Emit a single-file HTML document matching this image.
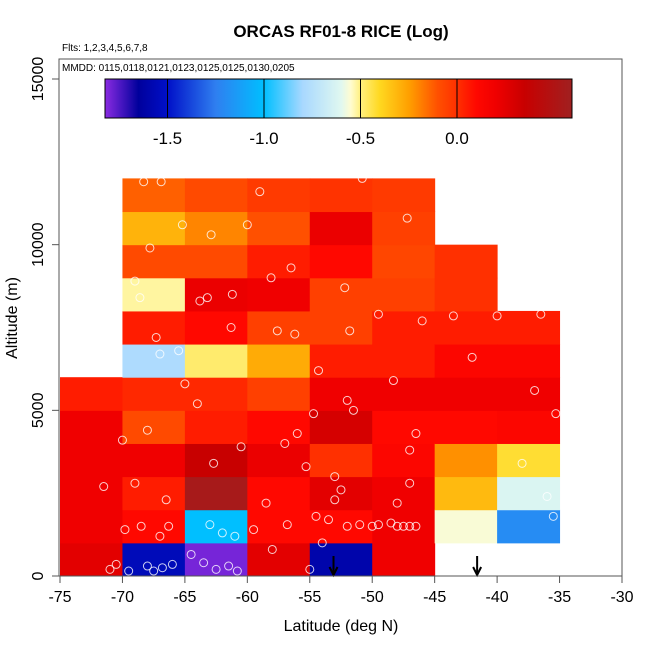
<!DOCTYPE html>
<html><head><meta charset="utf-8"><style>
html,body{margin:0;padding:0;background:#fff;}
svg{display:block;font-family:"Liberation Sans",Arial,sans-serif;}
</style></head><body>
<svg id="chart" width="650" height="650" viewBox="0 0 650 650" xmlns="http://www.w3.org/2000/svg">
<text x="341" y="37" text-anchor="middle" font-size="17" font-weight="bold">ORCAS RF01-8 RICE (Log)</text>
<text x="62" y="51" font-size="10">Flts: 1,2,3,4,5,6,7,8</text>
<g id="cells"></g>
<g id="points"></g>
<g id="arrows"></g>
<rect x="59" y="59" width="563" height="517" fill="none" stroke="#555" stroke-width="1"/>
<text x="62" y="71" font-size="10">MMDD: 0115,0118,0121,0123,0125,0125,0130,0205</text>
<g id="cbar"></g>
<g id="axes"></g>
<text x="341" y="631" text-anchor="middle" font-size="16">Latitude (deg N)</text>
<text x="0" y="0" transform="translate(17,318) rotate(-90)" text-anchor="middle" font-size="16">Altitude (m)</text>
</svg>
<script>
const latBins=[-75,-70,-65,-60,-55,-50,-45,-40];
// values per latitude column, altitude bins 0..11 (km); null = no data
const col75=[0.25,0.2,0.2,0.2,0.2,0.05,null,null,null,null,null,null];
const col70=[-1.55,0.1,0.05,0.2,-0.08,0.02,-0.78,0.05,-0.52,-0.08,-0.3,-0.13];
const col65=[-1.8,-1.0,0.55,0.35,0.05,0.02,-0.48,0.1,0.22,-0.08,-0.2,-0.08];
const col60=[0.25,0.1,0.1,0.22,0.1,-0.05,-0.28,-0.05,0.2,0.05,-0.1,-0.03];
const col55=[-1.6,0.1,0.25,0.0,0.3,0.2,0.05,-0.05,-0.05,0.1,0.22,-0.01];
const col50=[0.2,0.2,0.2,0.12,0.1,0.2,0.05,0.05,-0.05,-0.07,-0.05,-0.03];
const col45=[null,-0.56,-0.32,-0.22,0.1,0.2,0.12,0.05,0.0,0.0,null,null];
const col40=[null,-1.2,-0.62,-0.42,0.12,0.2,0.12,0.05,null,null,null,null];
const cellValues=[col75,col70,col65,col60,col55,col50,col45,col40];
const xTicks=[-75,-70,-65,-60,-55,-50,-45,-40,-35,-30];
const yTicks=[0,5000,10000,15000];
const cbTicks=[-1.5,-1.0,-0.5,0.0];
const ptLat=[-71,-70.5,-69.5,-68,-67.5,-66.8,-66,-64.5,-63.5,-62.5,-61.5,-60.8,-68.5,-67,-66.3,-69.8,-63,-62,-61,-59.5,-58,-56.8,-55,-54.5,-54,-53.5,-52,-51,-50,-49.5,-48.5,-48,-47.5,-47,-46.5,-53,-52.5,-48,-47,-71.5,-70,-69,-68,-66.5,-65,-64,-62.7,-60.5,-58.5,-57,-56,-55.3,-54.7,-53,-52,-51.5,-47,-46.5,-46,-43.5,-42,-40,-37,-35.3,-38,-36,-35.5,-36.5,-67.3,-67,-65.5,-61.3,-57.6,-56.2,-54.3,-51.8,-49.5,-48.3,-69,-68.6,-63.8,-63.2,-61.2,-60,-59,-66.9,-68.3,-65.2,-62.9,-58.1,-56.5,-52.2,-50.8,-47.2,-67.8,-72];
const ptAlt=[200,350,150,300,150,250,350,650,400,200,300,150,1500,1200,1500,1400,1550,1300,1200,1400,800,1550,200,1800,1000,1700,1500,1550,1500,1550,1600,1500,1500,1500,1500,2300,2600,2200,2800,2700,4100,2800,4400,2300,5800,5200,3400,3900,2200,4000,4300,3300,4900,3000,5300,5000,3800,4300,7700,7850,6600,7850,5600,4900,3400,2400,1800,7900,7200,6700,6800,7500,7400,7300,6200,7400,7900,5900,8900,8400,8300,8400,8500,10600,11600,11900,11900,10600,10300,9000,9300,8700,12000,10800,9900,12000];
const cStops=[[-1.826,[138,43,226]],[-1.65,[0,0,156]],[-1.5,[0,16,200]],[-1.25,[47,127,240]],[-1.0,[0,191,255]],[-0.8,[168,216,255]],[-0.6,[224,248,240]],[-0.55,[255,252,208]],[-0.5,[255,240,128]],[-0.4,[255,216,32]],[-0.25,[255,160,0]],[-0.1,[255,80,0]],[0.0,[255,48,0]],[0.1,[255,8,0]],[0.2,[240,0,0]],[0.35,[200,0,0]],[0.596,[160,32,32]]];
function cmap(v){
  if(v<=cStops[0][0])return cStops[0][1];
  for(let i=1;i<cStops.length;i++){
    if(v<=cStops[i][0]){const a=cStops[i-1],b=cStops[i];const t=(v-a[0])/(b[0]-a[0]);
      return a[1].map((c,k)=>Math.round(c+(b[1][k]-c)*t));}
  }
  return cStops[cStops.length-1][1];
}
function rgb(c){return 'rgb('+c.join(',')+')';}
const X=lat=>60+(lat+75)*562/45;
const Y=alt=>576-alt*497/15000;
const CB=v=>457+v*193;
const NS='http://www.w3.org/2000/svg';
function mk(tag,attrs,parent){const e=document.createElementNS(NS,tag);for(const k in attrs)e.setAttribute(k,attrs[k]);parent.appendChild(e);return e;}
const gC=document.getElementById('cells');
cellValues.forEach((col,i)=>{col.forEach((v,j)=>{
  if(v===null)return;
  const x0=X(latBins[i]),x1=X(latBins[i]+5),y0=Y((j+1)*1000),y1=Y(j*1000);
  const r=mk('rect',{x:x0,y:y0,width:x1-x0+0.5,height:y1-y0+0.5,fill:rgb(cmap(v))},gC);
  
  
});});
const gP=document.getElementById('points');
ptLat.forEach((la,i)=>{
  const c=mk('circle',{cx:X(la),cy:Y(ptAlt[i]),r:4,fill:'none',stroke:'rgba(255,255,255,0.8)','stroke-width':1},gP);
  
  
});
const gA=document.getElementById('arrows');
[-53.1,-41.6].forEach(la=>{
  const x=X(la);
  const p=mk('path',{d:`M${x},556 L${x},575 M${x-4},567 L${x},575 L${x+4},567`,stroke:'#000','stroke-width':2,fill:'none'},gA);
  
  
});
// colorbar
const gB=document.getElementById('cbar');
const defs=mk('defs',{},gB);
const lg=mk('linearGradient',{id:'cg',x1:0,x2:1,y1:0,y2:0},defs);
cStops.forEach(s=>{mk('stop',{offset:((CB(s[0])-105)/467).toFixed(4),'stop-color':rgb(s[1])},lg);});
const cbr=mk('rect',{x:105,y:79,width:467,height:39,fill:'url(#cg)',stroke:'#000','stroke-width':1},gB);


cbTicks.forEach(t=>{
  const l=mk('line',{x1:CB(t),x2:CB(t),y1:79,y2:118,stroke:'#000','stroke-width':1},gB);
  
  
  const tx=mk('text',{x:CB(t),y:144,'text-anchor':'middle','font-size':17},gB);
  tx.textContent=t.toFixed(1);
  
  
});
// axes
const gX=document.getElementById('axes');
xTicks.forEach(t=>{
  mk('line',{x1:X(t),x2:X(t),y1:576,y2:583,stroke:'#555'},gX);
  const tx=mk('text',{x:X(t),y:602,'text-anchor':'middle','font-size':16},gX);
  tx.textContent=t;
  
  
});
yTicks.forEach(t=>{
  mk('line',{x1:52,x2:59,y1:Y(t),y2:Y(t),stroke:'#555'},gX);
  const tx=mk('text',{x:0,y:0,transform:`translate(43,${Y(t)}) rotate(-90)`,'text-anchor':'middle','font-size':16},gX);
  tx.textContent=t;
  
  
});
</script>
</body></html>
